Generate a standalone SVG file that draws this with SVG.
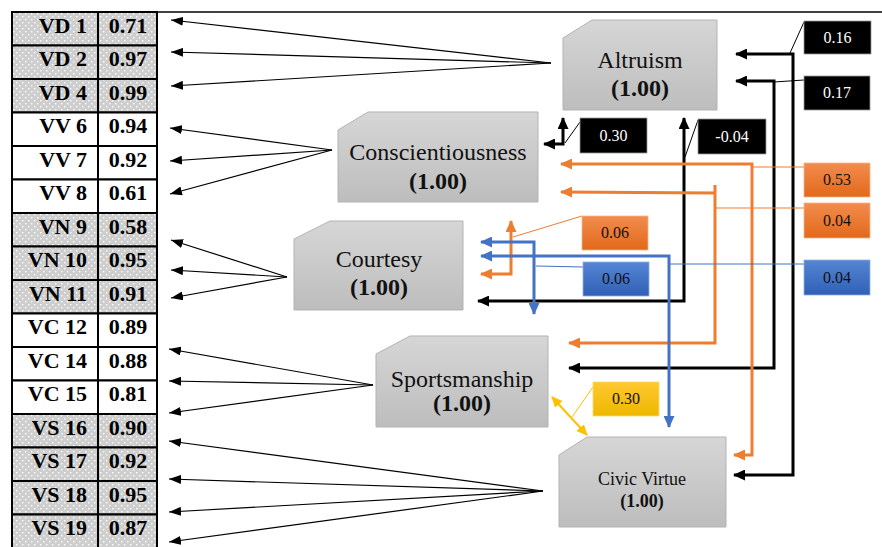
<svg xmlns="http://www.w3.org/2000/svg" width="882" height="547" viewBox="0 0 882 547">
  <style>
    .cell { stroke: #000; stroke-width: 2; }
    .plain { fill: #fff; }
    .shade { fill: url(#dots); }
    .item { font-family: "Liberation Serif", serif; font-weight: bold; font-size: 20px; fill: #000; }
    .lat { fill: url(#nodeFill); stroke: #b3b3b3; stroke-width: 1; }
    .lname { font-family: "Liberation Serif", serif; font-size: 24px; fill: #111; text-anchor: middle; }
    .lval { font-family: "Liberation Serif", serif; font-size: 24px; font-weight: bold; fill: #111; text-anchor: middle; }
    .load { fill: none; stroke: #000; stroke-width: 1.2; marker-end: url(#thin); }
    .blk { fill: none; stroke: #000; stroke-width: 3; }
    .org { fill: none; stroke: #ED7D31; stroke-width: 3; }
    .blu { fill: none; stroke: #4472C4; stroke-width: 3; }
    .ylw { fill: none; stroke: #FFC000; stroke-width: 2; }
    .lead { fill: none; stroke-width: 1; }
    .tag { font-family: "Liberation Serif", serif; font-size: 16px; text-anchor: middle; }
  </style>
  <defs>
    <pattern id="dots" width="6" height="6" patternUnits="userSpaceOnUse">
      <rect width="6" height="6" fill="#cecece"/>
      <rect x="1" y="1" width="1.4" height="1.4" fill="#fff"/>
      <rect x="4" y="4" width="1.4" height="1.4" fill="#fff"/>
    </pattern>
    <linearGradient id="nodeFill" x1="0" y1="0" x2="0" y2="1">
      <stop offset="0" stop-color="#d6d6d6"/>
      <stop offset="1" stop-color="#bdbdbd"/>
    </linearGradient>
    <linearGradient id="orangeFill" x1="0" y1="0" x2="0" y2="1">
      <stop offset="0" stop-color="#f28c4e"/>
      <stop offset="1" stop-color="#e2691b"/>
    </linearGradient>
    <linearGradient id="blueFill" x1="0" y1="0" x2="0" y2="1">
      <stop offset="0" stop-color="#5585d3"/>
      <stop offset="1" stop-color="#2f60b6"/>
    </linearGradient>
    <linearGradient id="yellowFill" x1="0" y1="0" x2="0" y2="1">
      <stop offset="0" stop-color="#ffc830"/>
      <stop offset="1" stop-color="#eeb800"/>
    </linearGradient>
    <marker id="thin" viewBox="0 0 12 9" markerWidth="12" markerHeight="9" refX="12" refY="4.5" orient="auto" markerUnits="userSpaceOnUse">
      <path d="M0,0 L12,4.5 L0,9 Z" fill="#000"/>
    </marker>
    <marker id="hBlk" viewBox="0 0 12 11" markerWidth="12" markerHeight="11" refX="11" refY="5.5" orient="auto-start-reverse" markerUnits="userSpaceOnUse">
      <path d="M0,0 L12,5.5 L0,11 Z" fill="#000"/>
    </marker>
    <marker id="hOrg" viewBox="0 0 12 11" markerWidth="12" markerHeight="11" refX="11" refY="5.5" orient="auto-start-reverse" markerUnits="userSpaceOnUse">
      <path d="M0,0 L12,5.5 L0,11 Z" fill="#ED7D31"/>
    </marker>
    <marker id="hBlu" viewBox="0 0 12 11" markerWidth="12" markerHeight="11" refX="11" refY="5.5" orient="auto-start-reverse" markerUnits="userSpaceOnUse">
      <path d="M0,0 L12,5.5 L0,11 Z" fill="#4472C4"/>
    </marker>
    <marker id="hYlw" viewBox="0 0 11 10" markerWidth="11" markerHeight="10" refX="10" refY="5" orient="auto-start-reverse" markerUnits="userSpaceOnUse">
      <path d="M0,0 L11,5 L0,10 Z" fill="#FFC000"/>
    </marker>
  </defs>

  <rect width="882" height="547" fill="#fff"/>

  <!-- frame line along the top -->
  <line x1="12" y1="12" x2="882" y2="12" stroke="#000" stroke-width="1.5"/>

  <!-- indicator table -->
  <g id="table">
    <g class="cell">
      <rect class="shade" x="12" y="12" width="86" height="33.5"/><rect class="shade" x="98" y="12" width="59" height="33.5"/>
      <rect class="shade" x="12" y="45.5" width="86" height="33.5"/><rect class="shade" x="98" y="45.5" width="59" height="33.5"/>
      <rect class="shade" x="12" y="79" width="86" height="33.5"/><rect class="shade" x="98" y="79" width="59" height="33.5"/>
      <rect class="plain" x="12" y="112.5" width="86" height="33.5"/><rect class="plain" x="98" y="112.5" width="59" height="33.5"/>
      <rect class="plain" x="12" y="146" width="86" height="33.5"/><rect class="plain" x="98" y="146" width="59" height="33.5"/>
      <rect class="plain" x="12" y="179.5" width="86" height="33.5"/><rect class="plain" x="98" y="179.5" width="59" height="33.5"/>
      <rect class="shade" x="12" y="213" width="86" height="33.5"/><rect class="shade" x="98" y="213" width="59" height="33.5"/>
      <rect class="shade" x="12" y="246.5" width="86" height="33.5"/><rect class="shade" x="98" y="246.5" width="59" height="33.5"/>
      <rect class="shade" x="12" y="280" width="86" height="33.5"/><rect class="shade" x="98" y="280" width="59" height="33.5"/>
      <rect class="plain" x="12" y="313.5" width="86" height="33.5"/><rect class="plain" x="98" y="313.5" width="59" height="33.5"/>
      <rect class="plain" x="12" y="347" width="86" height="33.5"/><rect class="plain" x="98" y="347" width="59" height="33.5"/>
      <rect class="plain" x="12" y="380.5" width="86" height="33.5"/><rect class="plain" x="98" y="380.5" width="59" height="33.5"/>
      <rect class="shade" x="12" y="414" width="86" height="33.5"/><rect class="shade" x="98" y="414" width="59" height="33.5"/>
      <rect class="shade" x="12" y="447.5" width="86" height="33.5"/><rect class="shade" x="98" y="447.5" width="59" height="33.5"/>
      <rect class="shade" x="12" y="481" width="86" height="33.5"/><rect class="shade" x="98" y="481" width="59" height="33.5"/>
      <rect class="shade" x="12" y="514.5" width="86" height="33.5"/><rect class="shade" x="98" y="514.5" width="59" height="33.5"/>
    </g>
    <!-- item codes, slightly widened type -->
    <g class="item" text-anchor="end" transform="translate(87,0) scale(1.1,1) translate(-87,0)">
      <text x="87" y="33">VD 1</text>
      <text x="87" y="66.5">VD 2</text>
      <text x="87" y="100">VD 4</text>
      <text x="87" y="133.5">VV 6</text>
      <text x="87" y="167">VV 7</text>
      <text x="87" y="200.5">VV 8</text>
      <text x="87" y="234">VN 9</text>
      <text x="87" y="267.5">VN 10</text>
      <text x="87" y="301">VN 11</text>
      <text x="87" y="334.5">VC 12</text>
      <text x="87" y="368">VC 14</text>
      <text x="87" y="401.5">VC 15</text>
      <text x="87" y="435">VS 16</text>
      <text x="87" y="468.5">VS 17</text>
      <text x="87" y="502">VS 18</text>
      <text x="87" y="535.5">VS 19</text>
    </g>
    <!-- loadings -->
    <g class="item" text-anchor="middle" transform="translate(128,0) scale(1.1,1) translate(-128,0)">
      <text x="128" y="33">0.71</text>
      <text x="128" y="66.5">0.97</text>
      <text x="128" y="100">0.99</text>
      <text x="128" y="133.5">0.94</text>
      <text x="128" y="167">0.92</text>
      <text x="128" y="200.5">0.61</text>
      <text x="128" y="234">0.58</text>
      <text x="128" y="267.5">0.95</text>
      <text x="128" y="301">0.91</text>
      <text x="128" y="334.5">0.89</text>
      <text x="128" y="368">0.88</text>
      <text x="128" y="401.5">0.81</text>
      <text x="128" y="435">0.90</text>
      <text x="128" y="468.5">0.92</text>
      <text x="128" y="502">0.95</text>
      <text x="128" y="535.5">0.87</text>
    </g>
  </g>

  <!-- latent factors -->
  <g id="altruism">
    <path class="lat" d="M563,38 L592,20 L717,20 L717,110 L563,110 Z"/>
    <text class="lname" x="640" y="68">Altruism</text>
    <text class="lval" x="640" y="96">(1.00)</text>
  </g>
  <g id="conscientiousness">
    <path class="lat" d="M338,130 L368,112 L538,112 L538,202 L338,202 Z"/>
    <text class="lname" x="438" y="160">Conscientiousness</text>
    <text class="lval" x="438" y="189">(1.00)</text>
  </g>
  <g id="courtesy">
    <path class="lat" d="M294,239 L330,221 L463,221 L463,310 L294,310 Z"/>
    <text class="lname" x="379" y="267">Courtesy</text>
    <text class="lval" x="379" y="295">(1.00)</text>
  </g>
  <g id="sportsmanship">
    <path class="lat" d="M376,354 L410,336 L548,336 L548,427 L376,427 Z"/>
    <text class="lname" x="462" y="387">Sportsmanship</text>
    <text class="lval" x="462" y="411">(1.00)</text>
  </g>
  <g id="civic-virtue">
    <path class="lat" d="M559,455 L587,437 L726,437 L726,527 L559,527 Z"/>
    <text class="lname" x="642" y="485" style="font-size:18px">Civic Virtue</text>
    <text class="lval" x="642" y="507" style="font-size:18px">(1.00)</text>
  </g>

  <!-- connectors -->
  <g id="connectors">
    <!-- factor loadings -->
    <path class="load" d="M551,63 L171,20"/>
    <path class="load" d="M551,63 L171,52"/>
    <path class="load" d="M551,63 L171,86"/>
    <path class="load" d="M332,150 L170,128"/>
    <path class="load" d="M332,150 L170,161"/>
    <path class="load" d="M332,150 L170,194"/>
    <path class="load" d="M287,277 L171,240"/>
    <path class="load" d="M287,277 L171,270"/>
    <path class="load" d="M287,277 L171,298"/>
    <path class="load" d="M373,385 L169,349"/>
    <path class="load" d="M373,385 L169,381"/>
    <path class="load" d="M373,385 L169,413"/>
    <path class="load" d="M543,491 L169,441"/>
    <path class="load" d="M543,491 L169,479"/>
    <path class="load" d="M543,491 L169,512"/>
    <path class="load" d="M543,491 L169,542"/>

    <!-- factor correlations -->
    <path class="blk" d="M736,54 H793 V475 H734" marker-start="url(#hBlk)" marker-end="url(#hBlk)"/>
    <path class="blk" d="M736,81 H774 V368 H569" marker-start="url(#hBlk)" marker-end="url(#hBlk)"/>
    <path class="blk" d="M563,118 V144 H544" marker-start="url(#hBlk)" marker-end="url(#hBlk)"/>
    <path class="blk" d="M684,118 V301 H478" marker-start="url(#hBlk)" marker-end="url(#hBlk)"/>

    <path class="org" d="M561,164 H752 V455 H734" marker-start="url(#hOrg)" marker-end="url(#hOrg)"/>
    <path class="org" d="M561,192 L715,193" marker-start="url(#hOrg)"/>
    <path class="org" d="M715,185 V343 H569" marker-end="url(#hOrg)"/>
    <path class="org" d="M511,221 V274 H481" marker-start="url(#hOrg)" marker-end="url(#hOrg)"/>

    <path class="blu" d="M481,242 H534 V314" marker-start="url(#hBlu)" marker-end="url(#hBlu)"/>
    <path class="blu" d="M481,256 H669 V427" marker-start="url(#hBlu)" marker-end="url(#hBlu)"/>

    <path class="ylw" d="M552,397 L587,435" marker-start="url(#hYlw)" marker-end="url(#hYlw)"/>

    <!-- label leaders -->
    <g class="lead" stroke="#000">
      <path d="M804,22 L790,53"/>
      <path d="M804,80 L774,82"/>
      <path d="M580,122 L565,143"/>
      <path d="M698,120 L685,157"/>
    </g>
    <g class="lead" stroke="#ED7D31">
      <path d="M804,167 L753,167"/>
      <path d="M804,208 L716,208"/>
      <path d="M582,216 L513,237"/>
    </g>
    <g class="lead" stroke="#4472C4">
      <path d="M583,267 L536,266"/>
      <path d="M804,264 L669,264"/>
    </g>
    <path class="lead" stroke="#FFC000" d="M593,387 L572,417"/>
  </g>

  <!-- coefficient labels -->
  <g id="coef-labels">
    <g stroke="#9a9a9a" stroke-width="0.8" fill="#000">
      <rect x="804" y="21" width="67" height="33"/>
      <rect x="804" y="76" width="66" height="34"/>
      <rect x="580" y="118" width="67" height="35"/>
      <rect x="698" y="119" width="68" height="35"/>
    </g>
    <g class="tag" fill="#fff">
      <text x="837.5" y="43">0.16</text>
      <text x="837" y="98">0.17</text>
      <text x="613.5" y="141">0.30</text>
      <text x="732" y="142">-0.04</text>
    </g>
    <g stroke="#f5b58a" stroke-width="0.8">
      <rect x="804" y="163" width="66" height="34" fill="url(#orangeFill)"/>
      <rect x="804" y="203" width="66" height="35" fill="url(#orangeFill)"/>
      <rect x="582" y="216" width="66" height="34" fill="url(#orangeFill)"/>
    </g>
    <g stroke="#8fb0e6" stroke-width="0.8">
      <rect x="804" y="260" width="66" height="35" fill="url(#blueFill)"/>
      <rect x="583" y="262" width="66" height="34" fill="url(#blueFill)"/>
    </g>
    <rect x="593" y="382" width="66" height="34" fill="url(#yellowFill)" stroke="#ffd966" stroke-width="0.8"/>
    <g class="tag" fill="#111">
      <text x="837" y="185">0.53</text>
      <text x="837" y="226">0.04</text>
      <text x="615" y="238">0.06</text>
      <text x="837" y="283">0.04</text>
      <text x="616" y="284">0.06</text>
      <text x="626" y="404">0.30</text>
    </g>
  </g>
</svg>
